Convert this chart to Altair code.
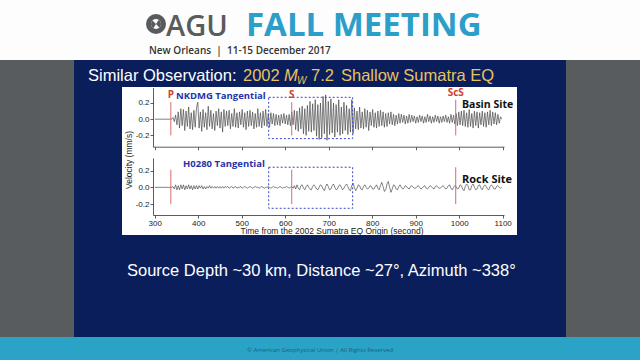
import altair as alt
import pandas as pd

# ---------------- data (velocity in 0.01 mm/s, sampled every 3 s from 339 s) ----------------
T_START = 339
DT = 3
top_vals = [
    0, 2, -3, 5, -7, 9, -11, 13, -8, 12, -14, 10, -9, 15, -12, 8, -13, 11, -10, 14,
    21, -11, 9, -15, 12, -10, 8, -13, 16, -9, 11, -12, 7, -14, 10, -8, 13, -11, 9, -16,
    12, -9, 10, -8, 11, -12, 7, -9, 13, -10, 8, -11, 9, -7, 12, -10, 8, -13, 10, -9,
    11, -8, 9, -12, 7, -10, 13, -9, 8, -11, 10, -8, 12, -9, 7, -10, 8, -6, 7, -8,
    6, -7, 5, -8, 6, -5, 7, -6, 5, -7, 6, -8, 9, -7, 11, -13, 10, -15, 14, -12,
    16, -18, 13, -20, 17, -15, 22, -16, 19, -14, 24, -21, 18, -25, 20, -23, 28, -18, 30, -26,
    22, -19, 25, -17, 20, -22, 18, -16, 24, -20, 15, -18, 21, -14, 17, -19, 13, -16, 24, -18,
    14, -12, 10, -13, 15, -11, 9, -12, 13, -10, 11, -14, 9, -8, 12, -10, 8, -11, 10, -9,
    11, -8, 9, -10, 7, -9, 8, -6, 9, -7, 6, -8, 5, -6, 7, -5, 6, -4, 5, -6,
    4, -5, 6, -4, 5, -3, 4, -5, 3, -4, 5, -3, 4, -5, 3, -4, 6, -3, 4, -5,
    3, -4, 5, -3, 4, -5, 3, -4, 4, -3, 5, -4, 3, -5, 6, -4, 5, -6, 7, -8,
    9, -7, 10, -8, 11, -9, 8, -10, 12, -9, 7, -11, 10, -8, 9, -11, 8, -7, 10, -9,
    8, -10, 9, -7, 11, -8, 9, -6, 8, -7, 6, -5, 3, 0,
]
bot_vals = [
    0, 1, -2, 3, -3, 2, -3, 3, -2, 3, -3, 2, -2, 3, -2, 2, -3, 2, -2, 2,
    -2, 2, -1, 2, -2, 1, -2, 1, -1, 2, -1, 1, -1, 1, -1, 1, -1, 1, -1, 1,
    -1, 1, 0, 1, -1, 0, 1, -1, 0, 1, -1, 0, 0, 1, -1, 0, 1, 0, -1, 0,
    1, 0, -1, 0, 1, 0, 0, -1, 0, 1, 0, -1, 0, 0, 1, 0, -1, 0, 1, 0,
    0, -1, 0, 1, 0, -1, 0, 0, 1, 0, -1, 0, 1, -1, 2, -2, 3, -1, -3, 2,
    3, -1, -3, 1, 3, 0, -2, -3, 1, 3, 1, -2, -3, 0, 3, 2, -2, -4, 1, 4,
    1, -3, -2, 2, 4, 0, -3, -2, 2, 3, 0, -3, -1, 2, 4, 1, -3, -4, 2, 5,
    0, -4, -1, 3, 2, -2, -3, 1, 3, 0, -2, -1, 2, 1, -2, -2, 1, 3, -1, -3,
    2, 6, 1, -5, -3, 4, 7, 0, -6, -2, 3, 2, -2, -3, 1, 3, 0, -2, -1, 2,
    1, -1, -2, 1, 2, 0, -1, -1, 1, 2, 0, -2, -1, 1, 2, -1, -2, 0, 2, 1,
    -1, -2, 1, 2, 0, -1, -1, 1, 2, 0, -2, -1, 2, 3, -1, -3, 0, 2, 1, -2,
    -1, 3, 2, -2, -4, 1, 4, 2, -3, -3, 2, 4, 0, -3, -2, 2, 3, -1, -3, 1,
    3, 1, -2, -3, 1, 3, 1, -2, -2, 1, 2, 0, -1, 0,
]
phase_names = ["P", "S", "ScS"]
phase_times = [337, 615, 992]
phase_top = [0.21, 0.21, 0.24]
phase_bottom = [-0.2, -0.2, -0.2]
box_times = [562, 755]
box_top_panel = [-0.24, 0.27]
box_bot_panel = [-0.25, 0.24]
x_ticks = [300, 400, 500, 600, 700, 800, 900, 1000, 1100]
y_ticks = [-0.2, 0.0, 0.2]


def trace_df(vals):
    t = [300] + [T_START + i * DT for i in range(len(vals))]
    v = [0.0] + [x / 100 for x in vals]
    return pd.DataFrame({"t": t, "v": v})


top_df = trace_df(top_vals)
bot_df = trace_df(bot_vals)
phase_df = pd.DataFrame({"name": phase_names, "t": phase_times, "v0": phase_bottom, "v1": phase_top})
box_top_df = pd.DataFrame({"t0": [box_times[0]], "t1": [box_times[1]], "v0": [box_top_panel[0]], "v1": [box_top_panel[1]]})
box_bot_df = pd.DataFrame({"t0": [box_times[0]], "t1": [box_times[1]], "v0": [box_bot_panel[0]], "v1": [box_bot_panel[1]]})
dummy = pd.DataFrame({"a": [0]})

XS = dict(domain=[296, 1103], range=[153, 504], nice=False, zero=False)
YS_TOP = dict(domain=[-0.34, 0.39], range=[146.7, 87.6], nice=False, zero=False)
YS_BOT = dict(domain=[-0.33, 0.35], range=[215, 158], nice=False, zero=False)

LABEL_EXPR = "replace(format(datum.value, '.1f'), '\u2212', '-')"
AX = dict(labelFont="Liberation Sans", labelFontSize=8, labelColor="#222", domainColor="#333",
          tickColor="#333", tickSize=3, grid=False, title=None, domainWidth=0.8, tickWidth=0.8,
          zindex=2)


def xenc(field, axis=None, sc=XS):
    if axis is None:
        return alt.X(field, type="quantitative", scale=alt.Scale(**sc), axis=None)
    return alt.X(field, type="quantitative", scale=alt.Scale(**sc), axis=axis)


def yenc(field, sc, axis=None):
    if axis is None:
        return alt.Y(field, type="quantitative", scale=alt.Scale(**sc), axis=None)
    return alt.Y(field, type="quantitative", scale=alt.Scale(**sc), axis=axis)


def rect(x, x2, y, y2, color):
    return alt.Chart(dummy).mark_rect(color=color).encode(
        x=alt.value(x), x2=alt.value(x2), y=alt.value(y), y2=alt.value(y2))


def txt(s, x, y, size, color, font="Liberation Sans", weight="normal", style="normal",
        align="left", baseline="alphabetic", angle=0):
    kw = dict(text=s, fontSize=size, color=color, font=font, fontWeight=weight,
              fontStyle=style, align=align, baseline=baseline)
    if angle:
        kw["angle"] = angle
    return alt.Chart(dummy).mark_text(**kw).encode(x=alt.value(x), y=alt.value(y))


NB = "\u00a0"
layers = []
# slide background
layers.append(rect(0, 640, 0, 360, "#595c5f"))
layers.append(rect(0, 640, 0, 60, "#fdfdfd"))
layers.append(rect(74, 566, 60, 337, "#0b1e5c"))
layers.append(rect(0, 640, 337, 360, "#2aa3c7"))
layers.append(rect(122, 517, 87, 235, "#ffffff"))

# header
layers.append(alt.Chart(dummy).mark_arc(theta=0, theta2=6.2832, innerRadius=5, outerRadius=10,
                                        color="#5a5b5d").encode(x=alt.value(156), y=alt.value(24)))
layers.append(alt.Chart(dummy).mark_arc(theta=0.6, theta2=2.4, innerRadius=0, outerRadius=5,
                                        color="#5a5b5d").encode(x=alt.value(156), y=alt.value(24)))
layers.append(alt.Chart(dummy).mark_arc(theta=3.7, theta2=5.5, innerRadius=0, outerRadius=5,
                                        color="#5a5b5d").encode(x=alt.value(156), y=alt.value(24)))
layers.append(txt("AGU", 166, 35.5, 29, "#5a5b5d", font="Open Sans", weight=600))
layers.append(txt("FALL MEETING", 246, 35.5, 33, "#2b9fca", font="Open Sans", weight="bold"))
layers.append(txt("New Orleans" + NB + NB + "|" + NB + NB + "11-15 December 2017", 149, 54, 10,
                  "#333333", font="Open Sans", weight=600))

# slide title
TY = 81
TS = 16.5
layers.append(txt("Similar Observation:", 88, TY, TS, "#ffffff"))
layers.append(txt("2002", 243, TY, TS, "#e8c25c"))
layers.append(txt("M", 284, TY, TS, "#e8c25c", style="italic"))
layers.append(txt("W", 297, TY + 3, 10, "#e8c25c", style="italic"))
layers.append(txt("7.2", 311, TY, TS, "#e8c25c"))
layers.append(txt("Shallow Sumatra EQ", 341, TY, TS, "#e8c25c"))

# traces
top_axis_x = alt.Axis(orient="bottom", offset=-(360 - 146.7), labels=False, values=x_ticks, **AX)
bot_axis_x = alt.Axis(orient="bottom", offset=-(360 - 215), values=x_ticks, format="d",
                      labelPadding=1, **AX)
top_axis_y = alt.Axis(orient="left", offset=-153, values=y_ticks, labelExpr=LABEL_EXPR, labelPadding=1, **AX)
bot_axis_y = alt.Axis(orient="left", offset=-153, values=y_ticks, labelExpr=LABEL_EXPR, labelPadding=1, **AX)

layers.append(alt.Chart(top_df).mark_line(color="#4a4a4a", strokeWidth=0.7).encode(
    x=xenc("t", top_axis_x), y=yenc("v", YS_TOP, top_axis_y)))
layers.append(alt.Chart(bot_df).mark_line(color="#333333", strokeWidth=0.6).encode(
    x=xenc("t", bot_axis_x), y=yenc("v", YS_BOT, bot_axis_y)))

# phase lines
for ys in (YS_TOP, YS_BOT):
    layers.append(alt.Chart(phase_df).mark_rule(color="#d86b6b", strokeWidth=1).encode(
        x=xenc("t"), y=yenc("v0", ys), y2="v1"))

# dotted boxes
for df, ys in ((box_top_df, YS_TOP), (box_bot_df, YS_BOT)):
    layers.append(alt.Chart(df).mark_rect(fillOpacity=0, stroke="#3a48c4", strokeWidth=1,
                                          strokeDash=[2, 2]).encode(
        x=xenc("t0"), x2="t1", y=yenc("v0", ys), y2="v1"))

# phase labels (top panel)
layers.append(alt.Chart(phase_df).mark_text(fontSize=10, fontWeight="bold", color="#d0402e",
                                            font="Open Sans", baseline="alphabetic", align="center").encode(
    x=xenc("t"), y=yenc("v1", YS_TOP), text="name:N", yOffset=alt.value(-4)))

# in-plot labels
layers.append(txt("NKDMG Tangential", 176, 99, 9.5, "#2334a8", font="Open Sans", weight="bold"))
layers.append(txt("Basin Site", 462, 108, 10.5, "#111111", font="Open Sans", weight="bold"))
layers.append(txt("H0280 Tangential", 183, 167, 9.5, "#2334a8", font="Open Sans", weight="bold"))
layers.append(txt("Rock Site", 462, 183, 11, "#111111", font="Open Sans", weight="bold"))

# axis titles
layers.append(txt("Velocity (mm/s)", 129, 160, 8.5, "#222", align="center", baseline="middle", angle=270))
layers.append(txt("Time from the 2002 Sumatra EQ Origin (second)", 332, 231, 8.5, "#222",
                  align="center", baseline="middle"))

# bottom text
layers.append(txt("Source Depth ~30 km, Distance ~27\u00b0, Azimuth ~338\u00b0", 127, 276, 16.5, "#ffffff"))
layers.append(txt("\u00a9 American Geophysical Union | All Rights Reserved", 320, 350, 6, "#1c5f7c",
                  font="Open Sans", align="center", baseline="middle"))

chart = alt.layer(*layers).resolve_scale(x="independent", y="independent").properties(
    width=640, height=360, padding=0, autosize=alt.AutoSizeParams(type="none")
).configure_view(stroke=None)

chart.save("out.html", embed_options={"renderer": "svg", "actions": False})
